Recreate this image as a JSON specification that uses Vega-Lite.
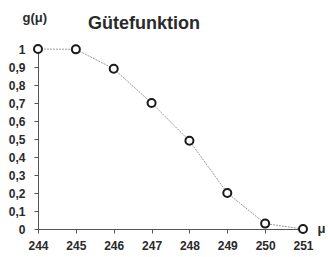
{
  "$schema": "https://vega.github.io/schema/vega-lite/v6.json",
  "autosize": "none",
  "width": 265,
  "height": 180,
  "padding": {"left": 38, "top": 49, "right": 25, "bottom": 28},
  "background": "white",
  "title": {
    "text": "Gütefunktion",
    "anchor": "start",
    "frame": "group",
    "dx": 50,
    "offset": -22,
    "font": "Liberation Sans",
    "fontSize": 18,
    "fontWeight": "bold",
    "color": "#2a2a2a"
  },
  "data": {
    "values": [
      {"mu": 244, "g": 1.0},
      {"mu": 245, "g": 0.998},
      {"mu": 246, "g": 0.89},
      {"mu": 247, "g": 0.70},
      {"mu": 248, "g": 0.49},
      {"mu": 249, "g": 0.2},
      {"mu": 250, "g": 0.03},
      {"mu": 251, "g": 0.0}
    ]
  },
  "config": {
    "view": {"stroke": null},
    "axis": {
      "labelFont": "Liberation Sans",
      "labelFontSize": 12,
      "labelFontWeight": "bold",
      "labelColor": "#2a2a2a",
      "labelOverlap": false,
      "titleFont": "Liberation Sans",
      "titleFontWeight": "bold",
      "titleColor": "#2a2a2a",
      "grid": false,
      "ticks": true,
      "tickColor": "#555",
      "domainColor": "#555"
    }
  },
  "mark": {
    "type": "line",
    "color": "#999",
    "strokeWidth": 1,
    "strokeDash": [2, 1],
    "point": {"filled": false, "fill": "white", "stroke": "#1a1a1a", "strokeWidth": 2, "size": 64, "opacity": 1}
  },
  "encoding": {
    "x": {
      "field": "mu",
      "type": "quantitative",
      "scale": {"domain": [244, 251], "nice": false, "zero": false},
      "axis": {
        "values": [244, 245, 246, 247, 248, 249, 250, 251],
        "tickSize": 4,
        "labelPadding": 7,
        "labelFlush": false,
        "labelOverlap": false,
        "title": "μ",
        "titleFontSize": 13,
        "titleAngle": 0,
        "titleAlign": "left",
        "titleBaseline": "middle",
        "titleX": 279,
        "titleY": -1
      }
    },
    "y": {
      "field": "g",
      "type": "quantitative",
      "scale": {"domain": [0, 1], "nice": false},
      "axis": {
        "values": [0, 0.1, 0.2, 0.3, 0.4, 0.5, 0.6, 0.7, 0.8, 0.9, 1],
        "tickSize": 4,
        "labelPadding": 9,
        "labelFlush": false,
        "labelOverlap": false,
        "labelExpr": "replace(format(datum.value, '.1~f'), '.', ',')",
        "title": "g(μ)",
        "titleFontSize": 13,
        "titleAngle": 0,
        "titleAlign": "left",
        "titleBaseline": "top",
        "titleX": -16,
        "titleY": -38
      }
    }
  }
}
